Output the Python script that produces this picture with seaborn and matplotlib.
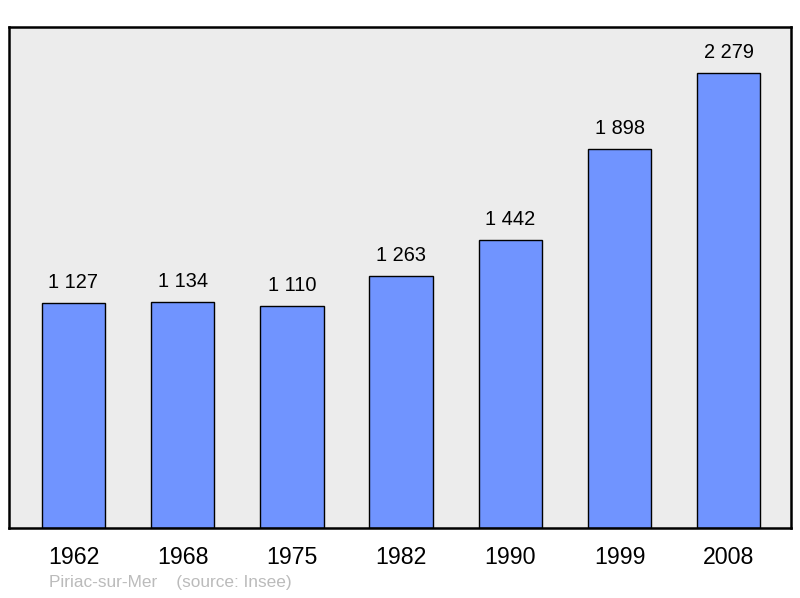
import matplotlib
matplotlib.use('Agg')
import matplotlib.pyplot as plt
import seaborn as sns
import pandas as pd

years = ['1962', '1968', '1975', '1982', '1990', '1999', '2008']
population = [1127, 1134, 1110, 1263, 1442, 1898, 2279]
commune = 'Piriac-sur-Mer'
source = '(source: Insee)'

sns.set_theme(style='white')
plt.rcParams['font.family'] = ['Liberation Sans', 'DejaVu Sans']

df = pd.DataFrame({'year': years, 'pop': population})

fig = plt.figure(figsize=(8, 5.98), dpi=100)
ax = fig.add_axes([9 / 800, 70 / 598, 782 / 800, 501 / 598])
ax.set_facecolor('#ececec')

sns.barplot(data=df, x='year', y='pop', ax=ax, color='#7094ff', saturation=1,
            width=0.58, edgecolor='black', linewidth=1)

# value labels above bars, space as thousands separator
for i, v in enumerate(population):
    label = f'{v:,}'.replace(',', ' ')
    ax.annotate(label, (i, v), xytext=(0, 8), textcoords='offset points',
                ha='center', va='bottom', fontsize=14.4, color='black')

ax.set_xlim(-0.59, 6.57)
ax.set_ylim(0, 2510)
ax.set_xlabel('')
ax.set_ylabel('')
ax.set_yticks([])
ax.tick_params(axis='x', length=0, labelsize=16.7, pad=13, colors='black')
for s in ax.spines.values():
    s.set_visible(True)
    s.set_color('black')
    s.set_linewidth(1.8)

fig.text(49 / 800, 1 - 583 / 598, commune + '    ' + source, color='#bbbbbb',
         fontsize=12.4, va='center', ha='left')

fig.savefig('out.png', dpi=100)
plt.close(fig)
